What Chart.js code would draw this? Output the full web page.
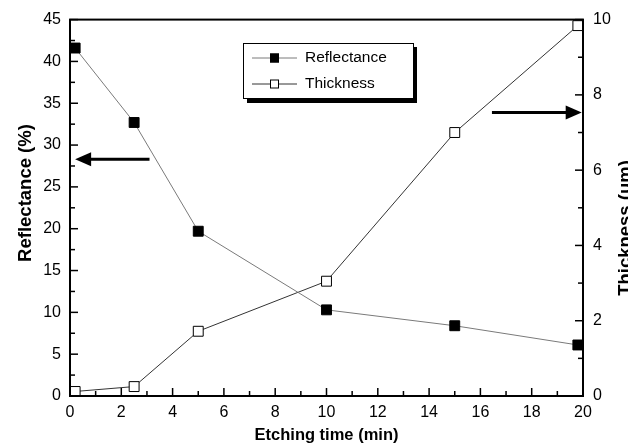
<!DOCTYPE html>
<html>
<head>
<meta charset="utf-8">
<script src="https://cdn.jsdelivr.net/npm/chart.js@4"></script>
<style>
  body { margin: 0; background: #fff; }
  canvas { display: block; }
</style>
</head>
<body>
<canvas id="grafico" width="628" height="448"></canvas>
<script>
// Datos
const tiempos = [0.2, 2.5, 5, 10, 15, 19.8];
const reflectancia = [41.6, 32.7, 19.7, 10.3, 8.4, 6.1];
const espesor = [0.12, 0.25, 1.72, 3.05, 7.0, 9.84];
const nombres = ['Reflectance', 'Thickness'];

// Etiquetas de los ejes
const ticksX = [0, 2, 4, 6, 8, 10, 12, 14, 16, 18, 20];
const ticksY = [0, 5, 10, 15, 20, 25, 30, 35, 40, 45];
const ticksY2 = [0, 2, 4, 6, 8, 10];

// Flechas que indican a qué eje pertenece cada curva (en unidades de datos)
const flechas = [
  { eje: 'y', valor: 28.3, desde: 3.1, hasta: 0.2 },
  { eje: 'y2', valor: 7.53, desde: 16.45, hasta: 19.95 }
];

const fuente = '"Liberation Sans", Arial, sans-serif';

function puntos(ys) {
  return tiempos.map((t, i) => ({ x: t, y: ys[i] }));
}

function fijarTicks(lista) {
  return function (escala) {
    escala.ticks = lista.map(v => ({ value: v }));
  };
}

function linea(ctx, x1, y1, x2, y2) {
  ctx.beginPath();
  ctx.moveTo(x1, y1);
  ctx.lineTo(x2, y2);
  ctx.stroke();
}

// Texto vertical leído de abajo hacia arriba
function textoVertical(ctx, texto, x, y) {
  ctx.save();
  ctx.translate(x, y);
  ctx.rotate(-Math.PI / 2);
  ctx.font = 'bold 18.5px ' + fuente;
  ctx.fillStyle = '#000';
  ctx.textAlign = 'center';
  ctx.textBaseline = 'alphabetic';
  ctx.fillText(texto, 0, 0);
  ctx.restore();
}

// Marco, ticks hacia adentro, flechas, leyenda y títulos verticales
const extras = {
  id: 'extras',
  afterDraw(chart) {
    const { ctx, chartArea: a, scales } = chart;
    ctx.save();
    ctx.strokeStyle = '#000';
    ctx.fillStyle = '#000';

    // ticks (mayores de la lista, menores en los puntos medios)
    ctx.lineWidth = 1.5;
    const dibujarTicks = (lista, fn) => {
      lista.forEach((v, i) => {
        fn(v, 8);
        if (i < lista.length - 1) fn((v + lista[i + 1]) / 2, 5);
      });
    };
    dibujarTicks(ticksX, (v, l) => {
      const px = scales.x.getPixelForValue(v);
      linea(ctx, px, a.bottom, px, a.bottom - l);
    });
    dibujarTicks(ticksY, (v, l) => {
      const py = scales.y.getPixelForValue(v);
      linea(ctx, a.left, py, a.left + l, py);
    });
    dibujarTicks(ticksY2, (v, l) => {
      const py = scales.y2.getPixelForValue(v);
      linea(ctx, a.right, py, a.right - l, py);
    });

    // marco
    ctx.lineWidth = 2;
    ctx.strokeRect(a.left, a.top, a.right - a.left, a.bottom - a.top);

    // flechas
    flechas.forEach(f => {
      const y = scales[f.eje].getPixelForValue(f.valor);
      const x1 = scales.x.getPixelForValue(f.desde);
      const x2 = scales.x.getPixelForValue(f.hasta);
      const dir = Math.sign(x2 - x1);
      ctx.lineWidth = 3;
      linea(ctx, x1, y, x2 - dir * 14, y);
      ctx.beginPath();
      ctx.moveTo(x2, y);
      ctx.lineTo(x2 - dir * 16, y - 7);
      ctx.lineTo(x2 - dir * 16, y + 7);
      ctx.closePath();
      ctx.fill();
    });

    // leyenda con sombra
    const lx = 243, ly = 43, lw = 170, lh = 55;
    ctx.fillStyle = '#000';
    ctx.fillRect(lx + 4, ly + 4, lw, lh + 1);
    ctx.fillStyle = '#fff';
    ctx.fillRect(lx, ly, lw, lh);
    ctx.lineWidth = 1;
    ctx.strokeRect(lx + 0.5, ly + 0.5, lw, lh);
    chart.data.datasets.forEach((ds, i) => {
      const y = ly + 15 + i * 26;
      ctx.strokeStyle = ds.borderColor;
      ctx.lineWidth = 1;
      linea(ctx, 252, y, 297, y);
      ctx.fillStyle = ds.pointBackgroundColor;
      ctx.fillRect(270, y - 4.5, 9, 9);
      ctx.strokeStyle = '#000';
      ctx.strokeRect(270.5, y - 4, 8, 8);
      ctx.fillStyle = '#000';
      ctx.font = '15.5px ' + fuente;
      ctx.textAlign = 'left';
      ctx.textBaseline = 'middle';
      ctx.fillText(ds.label, 305, y);
    });
    ctx.restore();

    // títulos de los ejes verticales
    textoVertical(ctx, 'Reflectance (%)', 31, 193);
    textoVertical(ctx, 'Thickness (um)', 631, 228);
  }
};

const grafico = new Chart(document.getElementById('grafico'), {
  type: 'line',
  data: {
    datasets: [{
      label: nombres[0],
      data: puntos(reflectancia),
      yAxisID: 'y',
      borderColor: '#7a7a7a',
      borderWidth: 1,
      pointStyle: 'rect',
      pointRadius: 7,
      pointBackgroundColor: '#000',
      pointBorderColor: '#000',
      pointBorderWidth: 1
    }, {
      label: nombres[1],
      data: puntos(espesor),
      yAxisID: 'y2',
      borderColor: '#333',
      borderWidth: 1,
      pointStyle: 'rect',
      pointRadius: 7,
      pointBackgroundColor: '#fff',
      pointBorderColor: '#000',
      pointBorderWidth: 1
    }]
  },
  options: {
    responsive: false,
    animation: false,
    devicePixelRatio: 1,
    layout: { padding: { top: 19, left: 0, right: 0, bottom: 0 } },
    plugins: { legend: { display: false }, tooltip: { enabled: false } },
    scales: {
      x: {
        type: 'linear', min: 0, max: 20,
        afterBuildTicks: fijarTicks(ticksX),
        afterFit: s => { s.height = 52; },
        grid: { display: false, drawTicks: false },
        border: { display: false },
        ticks: { color: '#000', padding: 7, font: { family: fuente, size: 16 }, maxRotation: 0 },
        title: {
          display: true, text: 'Etching time (min)', color: '#000',
          font: { family: fuente, size: 16.5, weight: 'bold' },
          padding: { top: 0, bottom: 3 }
        }
      },
      y: {
        type: 'linear', position: 'left', min: 0, max: 45,
        afterBuildTicks: fijarTicks(ticksY),
        afterFit: s => { s.width = 70; },
        grid: { display: false, drawTicks: false },
        border: { display: false },
        ticks: { color: '#000', padding: 9, font: { family: fuente, size: 16 } }
      },
      y2: {
        type: 'linear', position: 'right', min: 0, max: 10,
        afterBuildTicks: fijarTicks(ticksY2),
        afterFit: s => { s.width = 45; },
        grid: { display: false, drawTicks: false },
        border: { display: false },
        ticks: { color: '#000', padding: 10, font: { family: fuente, size: 16 } }
      }
    }
  },
  plugins: [extras]
});
</script>
</body>
</html>
